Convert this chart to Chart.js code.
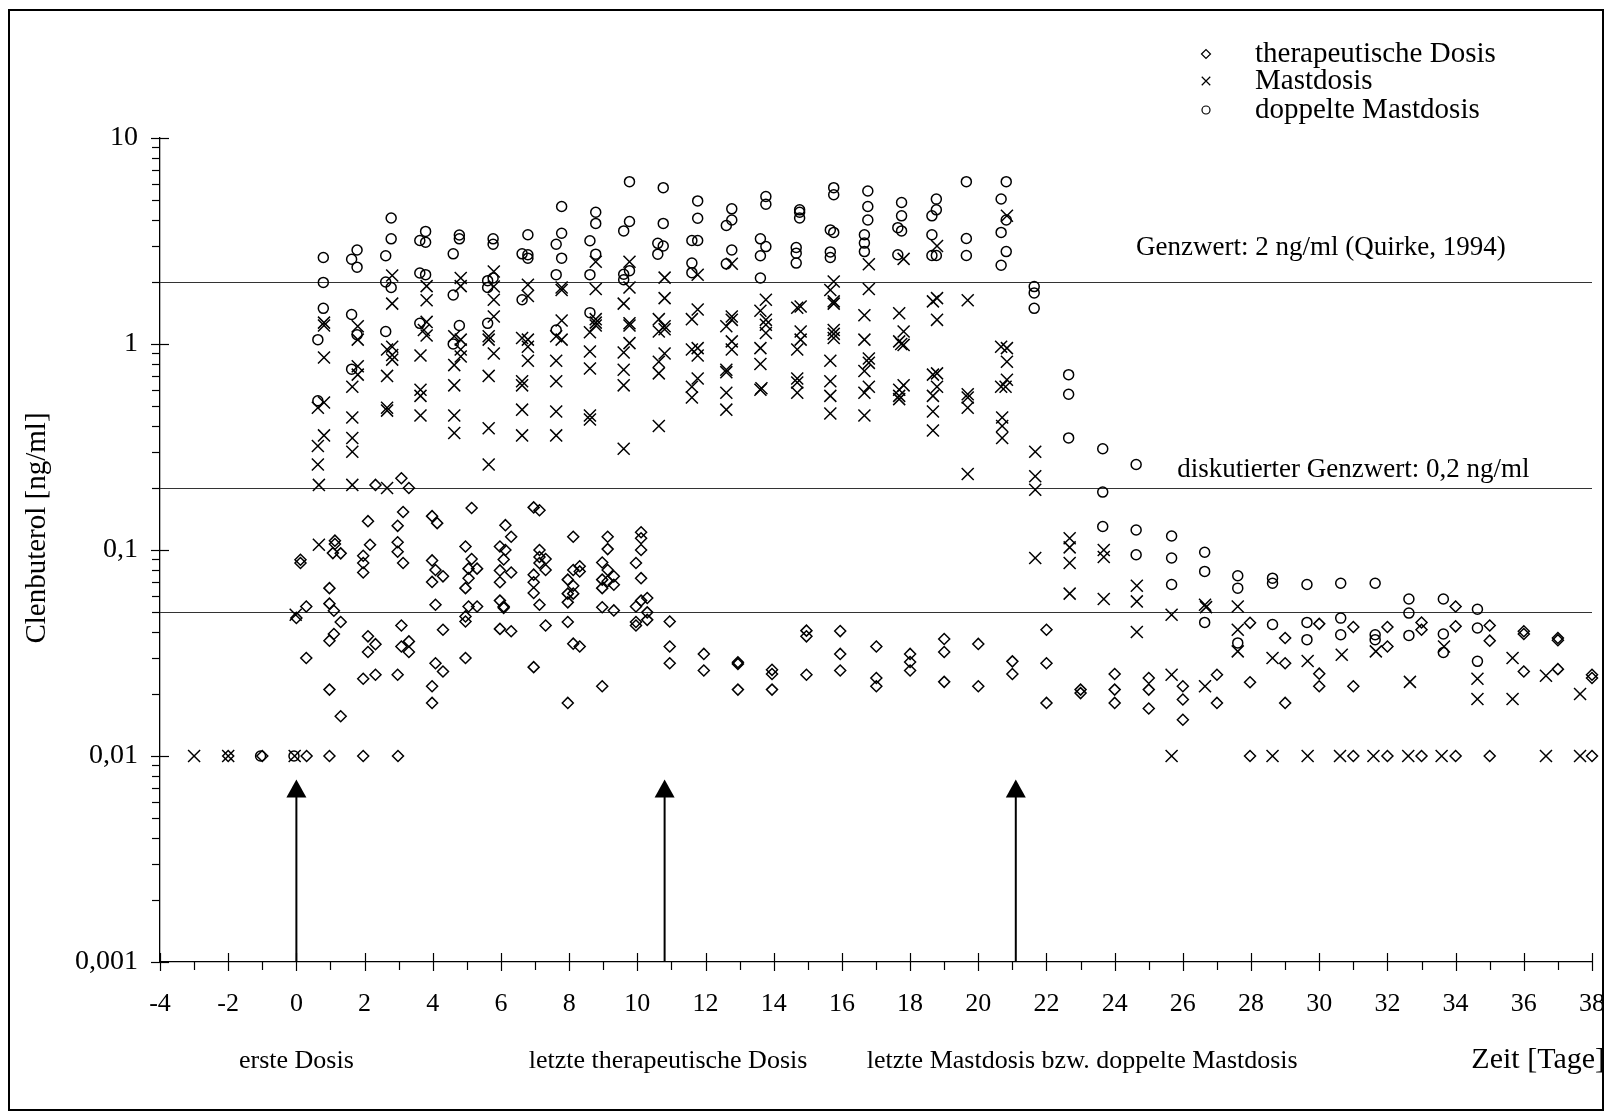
<!DOCTYPE html>
<html>
<head>
<meta charset="utf-8">
<script src="https://cdn.jsdelivr.net/npm/chart.js@4.4.0/dist/chart.umd.min.js"></script>
<style>
  html, body { margin: 0; padding: 0; background: #fff; }
  canvas { display: block; }
</style>
</head>
<body>
<canvas id="chartScatter" width="1616" height="1117"></canvas>
<script>
/* ---------------------------------- data ---------------------------------- */
const seriesLabels = ["therapeutische Dosis", "Mastdosis", "doppelte Mastdosis"];

const xTickValues = [-4, -2, 0, 2, 4, 6, 8, 10, 12, 14, 16, 18, 20, 22, 24, 26, 28, 30, 32, 34, 36, 38];
const yTickValues = [10, 1, 0.1, 0.01, 0.001];
const yTickLabels = ["10", "1", "0,1", "0,01", "0,001"];

// Grenzwerte (horizontal lines) and their captions
const limitValues = [2, 0.2, 0.05];
const limitTexts = ["Genzwert: 2 ng/ml (Quirke, 1994)", "diskutierter Genzwert: 0,2 ng/ml", ""];

// dosing events (arrows) and captions under the axis
const doseDays = [0, 10.8, 21.1];
const doseTexts = ["erste Dosis", "letzte therapeutische Dosis", "letzte Mastdosis bzw. doppelte Mastdosis"];
const xTitle = "Zeit [Tage]";
const yTitle = "Clenbuterol [ng/ml]";

// therapeutische Dosis
const therDays = [
  -2, -1, 0.3, 0.97, 1.96, 2.98,
  0, 0.12, 0.12, 0.29, 0.29,
  1.13, 1.13, 1.07, 1.3, 0.97, 0.97, 1.1, 1.3, 1.1, 0.97, 0.97, 1.3,
  2.32, 2.1, 2.16, 1.96, 1.96, 1.96, 2.1, 2.32, 2.1, 1.96, 2.32,
  3.08, 3.3, 3.13, 2.97, 2.97, 2.97, 3.13, 3.08, 3.08, 3.3, 3.3, 2.97,
  3.98, 4.13, 3.98, 4.08, 4.3, 3.98, 4.08, 4.3, 4.08, 4.3, 3.98, 3.98,
  5.14, 4.96, 5.14, 5.05, 5.3, 5.05, 4.96, 5.05, 5.3, 4.96, 4.96, 4.96,
  6.13, 6.3, 5.97, 6.13, 6.08, 5.97, 6.3, 5.97, 5.97, 6.08, 6.08, 5.97, 6.3,
  6.96, 7.13, 7.13, 7.13, 7.31, 7.13, 7.31, 6.96, 6.96, 6.96, 7.13, 7.31, 6.96,
  8.12, 8.31, 8.12, 8.31, 7.96, 8.12, 7.96, 8.12, 7.96, 7.96, 8.12, 8.31, 7.96,
  9.13, 9.13, 8.97, 9.13, 9.31, 8.97, 9.13, 9.31, 8.97, 8.97, 9.31, 8.97,
  10.11, 10.11, 10.11, 9.96, 10.11, 10.11, 10.29, 9.96, 10.29, 9.96, 10.29, 9.96,
  10.95, 10.95, 10.95, 11.95, 11.95, 12.95, 12.95, 12.95, 13.95, 13.95, 13.95,
  14.96, 14.96, 14.96, 15.95, 15.95, 15.95, 17.01, 17.01, 17.01, 18, 18, 18,
  19, 19, 19, 20, 20, 21, 21, 22, 22, 22,
  23, 23, 24, 24, 24, 25, 25, 25, 26, 26, 26, 27, 27,
  27.97, 27.97, 27.97, 29, 29, 29, 30, 30, 30, 31, 31, 31, 32, 32, 32,
  33, 33, 33, 34, 34, 34, 35, 35, 35, 36, 36, 36, 37, 37, 37, 38, 38, 38
];
const therValues = [
  0.01, 0.01, 0.01, 0.01, 0.01, 0.01,
  0.0468, 0.0897, 0.0865, 0.0532, 0.0299,
  0.111, 0.107, 0.0966, 0.0963, 0.0653, 0.0549, 0.0507, 0.0447, 0.0391, 0.0363, 0.021, 0.0156,
  0.207, 0.138, 0.106, 0.0938, 0.0865, 0.0778, 0.0381, 0.0349, 0.032, 0.0237, 0.0248,
  0.223, 0.2, 0.153, 0.131, 0.109, 0.098, 0.0865, 0.043, 0.034, 0.036, 0.032, 0.0248,
  0.146, 0.135, 0.089, 0.08, 0.0745, 0.07, 0.0542, 0.041, 0.0282, 0.0257, 0.0218, 0.0181,
  0.16, 0.104, 0.0904, 0.0812, 0.0812, 0.073, 0.0653, 0.0532, 0.0532, 0.0476, 0.045, 0.0299,
  0.132, 0.116, 0.104, 0.1, 0.09, 0.0796, 0.0778, 0.0697, 0.0568, 0.0532, 0.0524, 0.0414, 0.0403,
  0.161, 0.156, 0.1, 0.0925, 0.0904, 0.0865, 0.08, 0.0759, 0.0697, 0.0618, 0.0542, 0.043, 0.027,
  0.116, 0.0834, 0.08, 0.0787, 0.0718, 0.0671, 0.0614, 0.0614, 0.0557, 0.0447, 0.0351, 0.034, 0.0181,
  0.116, 0.101, 0.0869, 0.08, 0.0745, 0.0718, 0.0705, 0.0678, 0.0653, 0.0527, 0.0509, 0.0218,
  0.122, 0.114, 0.1, 0.0865, 0.073, 0.0568, 0.0585, 0.0532, 0.0498, 0.0447, 0.0458, 0.043,
  0.045, 0.034, 0.0282, 0.0313, 0.026, 0.0285, 0.028, 0.021, 0.0262, 0.025, 0.021,
  0.0406, 0.0381, 0.0248, 0.0404, 0.0313, 0.026, 0.034, 0.0239, 0.0218, 0.0313, 0.0286, 0.026,
  0.037, 0.032, 0.0229, 0.035, 0.0218, 0.0288, 0.025, 0.041, 0.0282, 0.0181,
  0.021, 0.0202, 0.025, 0.021, 0.0181, 0.0239, 0.021, 0.017, 0.0218, 0.0188, 0.015, 0.0248, 0.0181,
  0.0443, 0.0228, 0.01, 0.0374, 0.0282, 0.0181, 0.0438, 0.0251, 0.0218, 0.0423, 0.0218, 0.01, 0.0423, 0.034, 0.01,
  0.0445, 0.041, 0.01, 0.0532, 0.0426, 0.01, 0.043, 0.0363, 0.01, 0.0403, 0.0391, 0.0257, 0.0374, 0.0365, 0.0264, 0.0248, 0.0239, 0.01
];

// Mastdosis
const mastDays = [
  -3, -2, -0.05, -0.02,
  0.81, 0.81, 0.81, 0.81, 0.63, 0.81, 0.63, 0.63, 0.66, 0.66,
  1.8, 1.8, 1.8, 1.8, 1.64, 1.64, 1.64, 1.64, 1.64,
  2.81, 2.81, 2.66, 2.81, 2.81, 2.81, 2.66, 2.66, 2.66, 2.66,
  3.82, 3.82, 3.82, 3.74, 3.82, 3.64, 3.64, 3.64, 3.64,
  4.82, 4.82, 4.63, 4.82, 4.82, 4.82, 4.63, 4.63, 4.63, 4.63,
  5.79, 5.79, 5.79, 5.79, 5.64, 5.64, 5.79, 5.64, 5.64, 5.64,
  6.79, 6.79, 6.62, 6.79, 6.79, 6.79, 6.62, 6.62, 6.62, 6.62,
  7.78, 7.78, 7.78, 7.62, 7.78, 7.62, 7.62, 7.62, 7.62,
  8.78, 8.78, 8.78, 8.78, 8.78, 8.61, 8.61, 8.61, 8.61, 8.61,
  9.77, 9.77, 9.6, 9.77, 9.77, 9.77, 9.6, 9.6, 9.6, 9.6,
  10.8, 10.8, 10.63, 10.8, 10.8, 10.63, 10.8, 10.63, 10.63, 10.63,
  11.77, 11.77, 11.6, 11.77, 11.6, 11.77, 11.77, 11.6, 11.6,
  12.77, 12.77, 12.77, 12.61, 12.77, 12.77, 12.61, 12.61, 12.61, 12.61,
  13.77, 13.61, 13.77, 13.77, 13.77, 13.61, 13.61, 13.61, 13.64,
  14.79, 14.69, 14.79, 14.79, 14.69, 14.69, 14.69, 14.69,
  15.76, 15.66, 15.76, 15.76, 15.76, 15.76, 15.76, 15.66, 15.66, 15.66, 15.66,
  16.79, 16.79, 16.66, 16.66, 16.79, 16.79, 16.66, 16.79, 16.66, 16.66,
  17.81, 17.68, 17.81, 17.68, 17.81, 17.74, 17.81, 17.68, 17.68, 17.68,
  18.79, 18.79, 18.67, 18.79, 18.67, 18.79, 18.79, 18.67, 18.67, 18.67,
  19.69, 19.69, 19.69, 19.69, 19.69,
  20.84, 20.67, 20.84, 20.84, 20.84, 20.67, 20.8, 20.7, 20.7, 20.7,
  21.67, 21.67, 21.67, 21.67, 22.68, 22.68, 22.68, 22.68, 23.68, 23.68, 23.68,
  24.65, 24.65, 24.65, 25.67, 25.67, 25.67, 26.65, 26.68, 26.65, 27.61, 27.61, 27.61,
  28.63, 28.63, 29.66, 29.66, 30.66, 30.61, 31.66, 31.59, 32.66, 32.61,
  33.66, 33.59, 34.64, 34.64, 35.67, 35.67, 36.65, 36.65, 37.65, 37.65
];
const mastValues = [
  0.01, 0.01, 0.01, 0.0485,
  1.27, 1.23, 0.86, 0.52, 0.49, 0.36, 0.32, 0.26, 0.207, 0.106,
  1.22, 1.05, 0.78, 0.71, 0.62, 0.44, 0.35, 0.3, 0.207,
  2.15, 1.57, 0.94, 0.97, 0.885, 0.84, 0.7, 0.49, 0.475, 0.2,
  1.91, 1.63, 1.28, 1.17, 1.1, 0.88, 0.6, 0.56, 0.45,
  2.09, 1.91, 1.09, 1.05, 0.94, 0.87, 0.79, 0.63, 0.45, 0.37,
  2.25, 1.9, 1.64, 1.36, 1.09, 1.05, 0.9, 0.7, 0.39, 0.26,
  1.94, 1.71, 1.07, 1.05, 0.97, 0.83, 0.66, 0.63, 0.48, 0.36,
  1.88, 1.83, 1.3, 1.09, 1.05, 0.83, 0.66, 0.47, 0.36,
  2.51, 1.85, 1.32, 1.27, 1.23, 1.14, 0.92, 0.76, 0.45, 0.43,
  2.51, 1.88, 1.57, 1.26, 1.23, 1.01, 0.91, 0.75, 0.63, 0.31,
  2.1, 1.67, 1.32, 1.22, 1.18, 1.15, 0.9, 0.82, 0.72, 0.4,
  2.17, 1.47, 1.32, 0.955, 0.94, 0.88, 0.68, 0.62, 0.55,
  2.45, 1.36, 1.31, 1.22, 1.03, 0.94, 0.75, 0.73, 0.58, 0.48,
  1.64, 1.45, 1.31, 1.24, 1.13, 0.955, 0.8, 0.6, 0.61,
  1.52, 1.5, 1.15, 1.05, 0.94, 0.68, 0.65, 0.58,
  2.01, 1.83, 1.61, 1.57, 1.17, 1.12, 1.07, 0.83, 0.66, 0.56, 0.46,
  2.44, 1.85, 1.38, 1.05, 0.85, 0.81, 0.74, 0.62, 0.58, 0.45,
  2.59, 1.41, 1.15, 1.03, 0.99, 1.0, 0.63, 0.6, 0.56, 0.54,
  2.99, 1.67, 1.61, 1.31, 0.71, 0.72, 0.62, 0.56, 0.47, 0.38,
  1.63, 0.57, 0.55, 0.49, 0.234,
  4.19, 0.97, 0.955, 0.82, 0.67, 0.62, 0.62, 0.44, 0.4, 0.35,
  0.3, 0.228, 0.196, 0.0914, 0.114, 0.103, 0.0865, 0.0614, 0.1, 0.0925, 0.0578,
  0.0671, 0.0563, 0.04, 0.0485, 0.0248, 0.01, 0.0542, 0.0528, 0.0218, 0.0532, 0.041, 0.0322,
  0.0299, 0.01, 0.0289, 0.01, 0.031, 0.01, 0.0322, 0.01, 0.0229, 0.01,
  0.034, 0.01, 0.0237, 0.0189, 0.0299, 0.0189, 0.0245, 0.01, 0.02, 0.01
];

// doppelte Mastdosis
const doppDays = [
  -1.05, -0.07,
  0.79, 0.79, 0.79, 0.63, 0.63,
  1.62, 1.78, 1.78, 1.62, 1.78, 1.62,
  2.78, 2.78, 2.62, 2.62, 2.78, 2.62,
  3.79, 3.62, 3.79, 3.62, 3.79, 3.62,
  4.78, 4.78, 4.6, 4.6, 4.78, 4.6,
  5.77, 5.77, 5.61, 5.77, 5.61, 5.61,
  6.79, 6.62, 6.79, 6.79, 6.62,
  7.78, 7.78, 7.62, 7.78, 7.62, 7.62,
  8.78, 8.78, 8.61, 8.78, 8.61, 8.61,
  9.77, 9.77, 9.6, 9.6, 9.77, 9.6,
  10.76, 10.76, 10.6, 10.76, 10.6,
  11.77, 11.77, 11.6, 11.77, 11.6, 11.6,
  12.77, 12.77, 12.61, 12.77, 12.61,
  13.77, 13.77, 13.61, 13.77, 13.61, 13.61,
  14.76, 14.76, 14.76, 14.66, 14.66, 14.66,
  15.76, 15.76, 15.66, 15.76, 15.66, 15.66,
  16.76, 16.76, 16.76, 16.66, 16.66, 16.66,
  17.75, 17.75, 17.64, 17.75, 17.64,
  18.77, 18.77, 18.64, 18.64, 18.64, 18.77,
  19.65, 19.65, 19.65, 20.82, 20.67, 20.82, 20.67, 20.82, 20.67,
  21.64, 21.64, 21.64, 22.65, 22.65, 22.65, 23.65, 23.65, 23.65, 24.63, 24.63, 24.63,
  25.67, 25.67, 25.67, 26.64, 26.64, 26.64, 27.61, 27.61, 27.61, 28.63, 28.63, 28.63, 29.64, 29.64, 29.64,
  30.63, 30.63, 30.63, 31.64, 31.64, 31.64, 32.63, 32.63, 32.63, 33.64, 33.64, 33.64, 34.64, 34.64, 34.64
];
const doppValues = [
  0.01, 0.01,
  2.63, 1.99, 1.49, 1.05, 0.53,
  2.58, 2.86, 2.36, 1.39, 1.11, 0.755,
  4.09, 3.24, 2.68, 2.0, 1.88, 1.15,
  3.52, 3.18, 3.12, 2.21, 2.17, 1.26,
  3.38, 3.24, 2.74, 1.73, 1.23, 1.0,
  3.24, 3.05, 2.03, 2.09, 1.88, 1.26,
  3.39, 2.74, 2.71, 2.61, 1.64,
  4.65, 3.45, 3.05, 2.61, 2.17, 1.17,
  4.36, 3.85, 3.17, 2.73, 2.17, 1.42,
  6.14, 3.93, 3.54, 2.18, 2.27, 2.05,
  5.74, 3.85, 3.08, 2.99, 2.73,
  4.95, 4.08, 3.18, 3.18, 2.47, 2.22,
  4.53, 4.0, 3.76, 2.86, 2.45,
  5.2, 4.77, 3.24, 2.97, 2.68, 2.09,
  4.48, 4.36, 4.09, 2.94, 2.76, 2.47,
  5.74, 5.3, 3.58, 3.48, 2.8, 2.63,
  5.53, 4.65, 4.0, 3.39, 3.09, 2.81,
  4.86, 4.19, 3.67, 3.54, 2.71,
  5.05, 4.48, 4.19, 3.39, 2.69, 2.69,
  6.14, 3.25, 2.69, 6.14, 5.06, 4.0, 3.48, 2.81, 2.41,
  1.9, 1.77, 1.49, 0.71, 0.57, 0.35, 0.31, 0.191, 0.13, 0.26, 0.125, 0.0948,
  0.117, 0.0914, 0.068, 0.0975, 0.0787, 0.0445, 0.075, 0.0653, 0.0354, 0.073, 0.069, 0.0435, 0.068, 0.0445, 0.0367,
  0.069, 0.0467, 0.0388, 0.069, 0.0388, 0.0367, 0.0578, 0.0494, 0.0385, 0.0578, 0.0391, 0.0318, 0.0516, 0.0418, 0.0288
];

/* --------------------------------- helpers -------------------------------- */
const FONT = "'Liberation Serif', 'Times New Roman', serif";
const toPoints = (days, values) => days.map((d, i) => ({ x: d, y: values[i] }));

const pointStyles = ["rectRot", "crossRot", "circle"];
const pointSizes = [5.5, 8.5, 5];

// everything the library has no option for: frame, limit lines, arrows, ticks, captions, legend
const decorations = {
  id: "decorations",
  beforeDatasetsDraw(chart) {
    const { ctx, chartArea } = chart;
    const yScale = chart.scales.y;
    ctx.save();
    ctx.strokeStyle = "#333";
    ctx.lineWidth = 1.2;
    limitValues.forEach((v) => {
      const py = Math.round(yScale.getPixelForValue(v)) + 0.5;
      ctx.beginPath();
      ctx.moveTo(chartArea.left, py);
      ctx.lineTo(chartArea.right, py);
      ctx.stroke();
    });
    ctx.restore();
  },
  afterDraw(chart) {
    const { ctx, chartArea, width, height } = chart;
    const xScale = chart.scales.x;
    const yScale = chart.scales.y;
    ctx.save();
    ctx.strokeStyle = "#000";
    ctx.fillStyle = "#000";

    // outer frame
    ctx.lineWidth = 2;
    ctx.strokeRect(9, 10, width - 22, height - 17);

    // x ticks: even days cross the axis, odd days hang below
    ctx.lineWidth = 1.2;
    const axisY = chartArea.bottom;
    for (let d = xScale.min; d <= xScale.max; d++) {
      const px = Math.round(xScale.getPixelForValue(d)) + 0.5;
      const major = d % 2 === 0;
      ctx.beginPath();
      ctx.moveTo(px, major ? axisY - 9 : axisY);
      ctx.lineTo(px, axisY + (major ? 9 : 8));
      ctx.stroke();
    }

    // y ticks: decades cross the axis, minor ticks on the left
    const axisX = chartArea.left;
    yTickValues.forEach((v) => {
      const py = Math.round(yScale.getPixelForValue(v)) + 0.5;
      ctx.beginPath();
      ctx.moveTo(axisX - 9, py);
      ctx.lineTo(axisX + 9, py);
      ctx.stroke();
      if (v < yScale.max) {
        for (let k = 2; k <= 9; k++) {
          const pm = Math.round(yScale.getPixelForValue(v * k)) + 0.5;
          ctx.beginPath();
          ctx.moveTo(axisX - 8, pm);
          ctx.lineTo(axisX, pm);
          ctx.stroke();
        }
      }
    });

    // arrows marking the doses
    const tipY = yScale.getPixelForValue(0.0077);
    doseDays.forEach((d) => {
      const px = xScale.getPixelForValue(d);
      ctx.lineWidth = 2;
      ctx.beginPath();
      ctx.moveTo(px, axisY);
      ctx.lineTo(px, tipY + 10);
      ctx.stroke();
      ctx.beginPath();
      ctx.moveTo(px, tipY);
      ctx.lineTo(px - 10, tipY + 18);
      ctx.lineTo(px + 10, tipY + 18);
      ctx.closePath();
      ctx.fill();
    });

    // captions of the limit lines
    ctx.font = "27px " + FONT;
    ctx.textAlign = "center";
    ctx.textBaseline = "alphabetic";
    ctx.fillText(limitTexts[0], xScale.getPixelForValue(30.05), yScale.getPixelForValue(limitValues[0]) - 27);
    ctx.fillText(limitTexts[1], xScale.getPixelForValue(31.0), yScale.getPixelForValue(limitValues[1]) - 11);

    // captions under the x axis
    ctx.font = "26px " + FONT;
    ctx.textBaseline = "middle";
    const captionDays = [0, 10.9, 23.05];
    doseTexts.forEach((t, i) => {
      ctx.fillText(t, xScale.getPixelForValue(captionDays[i]), 1061);
    });
    ctx.font = "30px " + FONT;
    ctx.textAlign = "right";
    ctx.fillText(xTitle, width - 11, 1060);

    // y axis title
    ctx.save();
    ctx.font = "29px " + FONT;
    ctx.translate(37, 528);
    ctx.rotate(-Math.PI / 2);
    ctx.textAlign = "center";
    ctx.fillText(yTitle, 0, 0);
    ctx.restore();

    // legend
    const legendY = [54, 81, 110];
    const legendSizes = [4.5, 6, 4];
    ctx.font = "29px " + FONT;
    chart.data.datasets.forEach((ds, i) => {
      ctx.lineWidth = 1.2;
      ctx.fillStyle = "rgba(0,0,0,0)";
      Chart.helpers.drawPoint(ctx, { pointStyle: ds.pointStyle, radius: legendSizes[i], borderWidth: 1.2, rotation: 0 }, 1206, legendY[i]);
      ctx.fillStyle = "#000";
      ctx.textAlign = "left";
      ctx.textBaseline = "middle";
      ctx.fillText(ds.label, 1255, legendY[i]);
    });
    ctx.restore();
  },
};

/* ---------------------------------- chart --------------------------------- */
const seriesData = [
  toPoints(therDays, therValues),
  toPoints(mastDays, mastValues),
  toPoints(doppDays, doppValues),
];

const configScatter = {
  type: "scatter",
  data: {
    datasets: seriesLabels.map((label, i) => ({
      label: label,
      data: seriesData[i],
      pointStyle: pointStyles[i],
      pointRadius: pointSizes[i],
      pointHoverRadius: pointSizes[i],
      borderColor: "#000",
      backgroundColor: "rgba(0,0,0,0)",
      borderWidth: 1.5,
      showLine: false,
      clip: false,
    })),
  },
  options: {
    responsive: false,
    animation: false,
    devicePixelRatio: 1,
    events: [],
    layout: { padding: { left: 10, right: 24, top: 138, bottom: 95 } },
    plugins: { legend: { display: false }, tooltip: { enabled: false } },
    scales: {
      x: {
        type: "linear",
        min: -4,
        max: 38,
        afterBuildTicks: (scale) => {
          scale.ticks = xTickValues.map((v) => ({ value: v }));
        },
        afterFit: (scale) => {
          scale.height = 60;
          scale.paddingLeft = 0;
          scale.paddingRight = 0;
        },
        ticks: {
          autoSkip: false,
          maxRotation: 0,
          padding: 27,
          color: "#000",
          font: { family: FONT, size: 26 },
          callback: (v) => String(v),
        },
        grid: { display: false, drawTicks: false },
        border: { display: true, color: "#000", width: 1.3 },
      },
      y: {
        type: "logarithmic",
        min: 0.001,
        max: 10,
        afterBuildTicks: (scale) => {
          scale.ticks = yTickValues.map((v) => ({ value: v }));
        },
        afterFit: (scale) => {
          scale.width = 150;
        },
        ticks: {
          padding: 22,
          color: "#000",
          font: { family: FONT, size: 28 },
          callback: (v, index) => yTickLabels[index],
        },
        grid: { display: false, drawTicks: false },
        border: { display: true, color: "#000", width: 1.3 },
      },
    },
  },
  plugins: [decorations],
};

const chartScatter = new Chart(document.getElementById("chartScatter"), configScatter);
</script>
</body>
</html>
